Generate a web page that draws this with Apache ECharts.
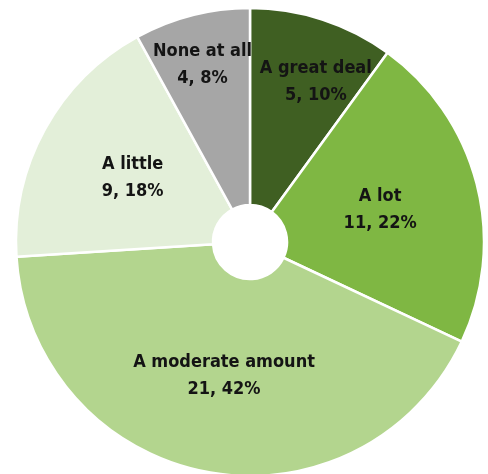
<!DOCTYPE html>
<html>
<head>
<meta charset="utf-8">
<style>
  html, body { margin: 0; padding: 0; background: #fff; }
  #chart { width: 488px; height: 474px; }
</style>
<script src="https://cdn.jsdelivr.net/npm/echarts@6/dist/echarts.min.js"></script>
</head>
<body>
<div id="chart"></div>
<script>
// Survey answers, in clockwise order from 12 o'clock
const categories = ['A great deal', 'A lot', 'A moderate amount', 'A little', 'None at all'];
const counts = [5, 11, 21, 9, 4];
const colors = ['#3f5f22', '#7fb743', '#b3d58e', '#e3efd9', '#a6a6a6'];

// nudges (px) for labels that sit away from the ring's mid radius
const labelNudge = [[23, -28], [-4, 2], [0, -2], [4, 3], [-13, -43]];

const total = counts.reduce((a, b) => a + b, 0);

const chart = echarts.init(document.getElementById('chart'), null, { renderer: 'canvas' });
chart.setOption({
  animation: false,
  series: [{
    type: 'pie',
    center: [250, 242],
    radius: [37, 234],
    startAngle: 90,
    clockwise: true,
    avoidLabelOverlap: false,
    silent: true,
    itemStyle: { borderColor: '#ffffff', borderWidth: 2.5 },
    label: {
      show: true,
      position: 'inside',
      color: '#141414',
      fontFamily: "'DejaVu Sans Condensed', 'Liberation Sans Narrow', sans-serif",
      fontWeight: 'bold',
      fontSize: 18,
      lineHeight: 27,
      align: 'center',
      formatter: p => p.name + '\n' + p.value + ', ' + Math.round(p.value / total * 100) + '%'
    },
    labelLine: { show: false },
    labelLayout: p => ({ dx: labelNudge[p.dataIndex][0], dy: labelNudge[p.dataIndex][1] }),
    data: categories.map((name, i) => ({
      name: name,
      value: counts[i],
      itemStyle: { color: colors[i] }
    }))
  }]
});
</script>
</body>
</html>
